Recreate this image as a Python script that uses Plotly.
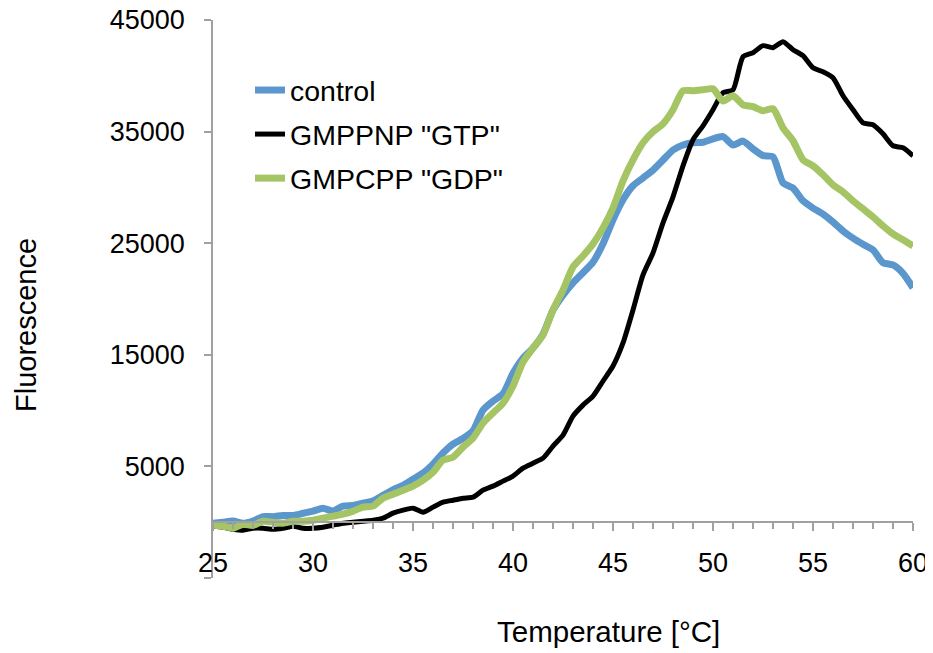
import plotly.graph_objects as go

temperature = [25.0 + 0.5 * i for i in range(71)]

control = [-100, 0, 100, -100, 100, 500, 500, 600, 600, 800,
           1000, 1250, 1000, 1450, 1500, 1700, 1900, 2400, 2900, 3300,
           3850, 4400, 5200, 6200, 7000, 7500, 8200, 10050, 10850, 11500,
           13350, 14700, 15600, 16850, 19000, 20350, 21450, 22350, 23300, 24950,
           27100, 28900, 30150, 30850, 31550, 32450, 33350, 33800, 34000, 34050,
           34350, 34550, 33800, 34150, 33450, 32850, 32750, 30400, 29950, 28800,
           28150, 27600, 26900, 26100, 25450, 24900, 24400, 23250, 23050, 22300,
           21000]

gmppnp = [-360, -450, -630, -720, -540, -540, -630, -540, -360, -540,
          -540, -450, -270, -90, 0, 90, 180, 360, 810, 1080,
          1260, 900, 1350, 1790, 1970, 2150, 2240, 2870, 3230, 3680,
          4130, 4840, 5290, 5740, 6820, 7800, 9510, 10490, 11300, 12650,
          13990, 16060, 19020, 22160, 24130, 26820, 29150, 31930, 34270, 35520,
          36960, 38480, 38750, 41710, 42070, 42700, 42520, 43060, 42340, 41800,
          40720, 40370, 39830, 38210, 36960, 35790, 35610, 34800, 33730, 33550,
          32830]

gmpcpp = [-270, -360, -540, -180, -270, 90, 0, -90, 90, 90,
          180, 360, 540, 720, 990, 1350, 1440, 2150, 2500, 2870,
          3230, 3770, 4480, 5560, 5830, 6730, 7530, 8880, 9780, 10670,
          12200, 14350, 15600, 16770, 19020, 20810, 22870, 23860, 24940, 26370,
          28170, 30590, 32470, 34000, 34980, 35700, 36960, 38660, 38660, 38750,
          38840, 37730, 38210, 37400, 37230, 36870, 37050, 35340, 34180, 32470,
          31930, 31130, 30230, 29600, 28790, 28080, 27360, 26550, 25830, 25300,
          24760]

series_names = ["control", 'GMPPNP "GTP"', 'GMPCPP "GDP"']
series_values = [control, gmppnp, gmpcpp]
series_colors = ["#5B96CC", "#000000", "#A5C463"]
series_widths = [7, 5, 7]

y_tickvals = [-5000, 5000, 15000, 25000, 35000, 45000]
y_ticktext = ["", "5000", "15000", "25000", "35000", "45000"]
x_tickvals = [25, 30, 35, 40, 45, 50, 55, 60]

FONT = "Liberation Sans, Arial, sans-serif"
AXIS = "#A0A0A0"

# page offset of the figure inside the html body
DX, DY = 7, 10
W, H = 933, 653
L, T = 212 - DX, 22 - DY
PW, PH = 700, 558
R, B = W - L - PW, H - T - PH

fig = go.Figure()
for name, vals, col, w in zip(series_names, series_values, series_colors, series_widths):
    fig.add_trace(go.Scatter(
        x=temperature, y=vals, name=name, mode="lines",
        line=dict(color=col, width=w, shape="spline", smoothing=0.6),
        legendgroup=name,
    ))


def px_to_paper(px, py):
    return ((px - DX) - L) / PW, (T + PH - (py - DY)) / PH


tx, ty = px_to_paper(25, 327)
xx, xy = px_to_paper(607, 633)
lx, ly = px_to_paper(249, 67)

fig.update_layout(
    width=W, height=H,
    margin=dict(l=L, r=R, t=T, b=B),
    paper_bgcolor="white", plot_bgcolor="white",
    font=dict(family=FONT, size=27, color="black"),
    showlegend=True,
    legend=dict(x=lx, y=ly, xanchor="left", yanchor="top",
                bgcolor="rgba(0,0,0,0)", font=dict(size=28.5),
                tracegroupgap=4, traceorder="grouped"),
    xaxis=dict(range=[25, 60], tickvals=x_tickvals, showgrid=False, zeroline=False,
               showline=True, linecolor=AXIS, linewidth=1.5, automargin=False,
               ticks="outside", ticklen=8, tickcolor=AXIS, tickwidth=1.5,
               anchor="free", position=0.1, ticklabelstandoff=9,
               ticklabeloverflow="allow",
               minor=dict(dtick=1, ticks="outside", ticklen=6, tickcolor=AXIS, tickwidth=1.5),
               tickfont=dict(size=27)),
    yaxis=dict(range=[-5000, 45000], tickvals=y_tickvals, ticktext=y_ticktext,
               showgrid=False, zeroline=False, automargin=False,
               showline=True, linecolor=AXIS, linewidth=1.5,
               ticks="outside", ticklen=7, tickcolor=AXIS, tickwidth=1.5,
               ticklabelstandoff=14, ticklabeloverflow="allow",
               tickfont=dict(size=27)),
    annotations=[
        dict(text="Fluorescence", x=tx, y=ty, xref="paper", yref="paper",
             xanchor="center", yanchor="middle",
             showarrow=False, textangle=-90, font=dict(size=29)),
        dict(text="Temperature [°C]", x=xx, y=xy, xref="paper", yref="paper",
             xanchor="center", yanchor="middle",
             showarrow=False, font=dict(size=29.5)),
    ],
)

fig.write_html("out.html")
